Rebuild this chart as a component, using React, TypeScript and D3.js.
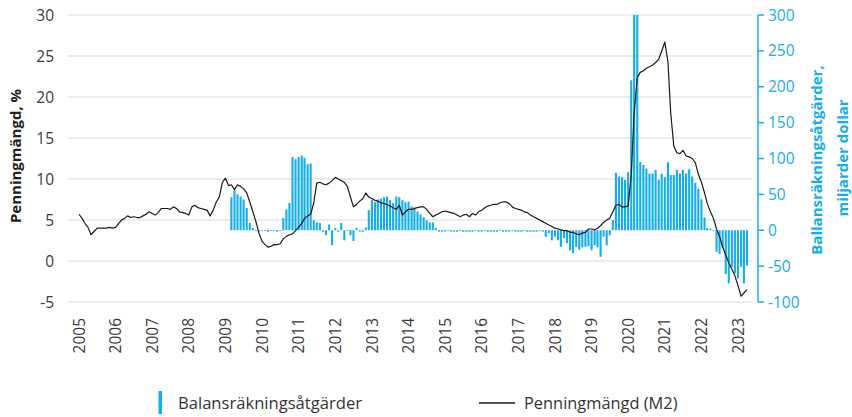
import React from "react";
import * as d3 from "d3";

const W = 852;
const H = 417;
const BLUE = "#14aee8";
const FONT = "'Open Sans', Lato, sans-serif";

const startYear = 2005;
const yearLabels = ["2005","2006","2007","2008","2009","2010","2011","2012","2013","2014","2015","2016","2017","2018","2019","2020","2021","2022","2023"];
const leftTicks = [-5, 0, 5, 10, 15, 20, 25, 30];
const rightTicks = [-100, -50, 0, 50, 100, 150, 200, 250, 300];

// Penningmängd (M2), % yoy — monthly from Jan 2005
const m2Growth = [
  5.7, 5.2, 4.6, 4.1, 3.2, 3.6, 4.0, 4.0, 4.0, 4.0,
  4.1, 4.0, 4.1, 4.6, 5.0, 5.2, 5.5, 5.3, 5.4, 5.3,
  5.3, 5.5, 5.7, 6.0, 5.8, 5.6, 5.9, 6.4, 6.4, 6.4,
  6.3, 6.6, 6.4, 6.0, 5.9, 5.8, 5.6, 6.6, 6.8, 6.5,
  6.4, 6.3, 6.2, 5.5, 6.2, 7.2, 7.8, 9.6, 10.1, 9.2,
  9.3, 8.7, 9.3, 9.1, 8.8, 8.3, 7.2, 6.0, 4.8, 3.4,
  2.4, 2.0, 1.7, 1.8, 2.0, 2.0, 2.1, 2.7, 3.0, 3.2,
  3.3, 3.7, 4.1, 4.6, 5.2, 5.5, 5.7, 7.1, 9.5, 9.6,
  9.4, 9.3, 9.5, 9.8, 10.2, 10.0, 9.8, 9.6, 9.1, 7.8,
  6.6, 6.9, 7.3, 7.6, 8.3, 7.8, 7.6, 7.4, 7.3, 7.1,
  7.0, 6.9, 6.7, 6.5, 6.3, 6.8, 5.6, 6.0, 6.3, 6.3,
  6.4, 6.5, 6.6, 6.6, 6.3, 5.8, 5.4, 5.6, 5.8, 6.0,
  6.1, 6.0, 5.9, 5.8, 5.6, 5.4, 5.6, 5.7, 5.4, 5.8,
  5.6, 6.0, 6.2, 6.5, 6.7, 6.8, 6.9, 6.9, 7.1, 7.2,
  7.2, 7.0, 6.6, 6.4, 6.3, 6.2, 6.0, 5.9, 5.6, 5.4,
  5.2, 5.0, 4.8, 4.6, 4.4, 4.2, 4.0, 3.9, 3.8, 3.7,
  3.7, 3.5, 3.5, 3.3, 3.2, 3.4, 3.5, 3.9, 3.9, 3.8,
  4.0, 4.3, 4.7, 5.0, 5.2, 6.0, 6.8, 6.9, 6.6, 6.6,
  6.7, 10.5, 18.0, 22.4, 23.0, 23.2, 23.5, 23.7, 23.9, 24.2,
  24.6, 25.6, 26.7, 24.3, 18.0, 14.0, 13.2, 13.1, 13.5, 12.8,
  12.7, 12.5, 12.0, 10.6, 9.6, 8.3, 7.0, 6.0, 5.2, 3.9,
  3.0, 1.7, 0.7, -0.2, -1.0, -1.8, -3.0, -4.3, -3.9, -3.5,
];

// Balansräkningsåtgärder, miljarder dollar — monthly from Jan 2005 (null = no bar)
const balanceSheet: (number | null)[] = [
  ...Array(50).fill(null),
  46, 56, 50, 47, 43, 31, 10, 3,
  -1, -2, -1, -1, -2, -1, -1, -2, -1,
  17, 29, 38, 102, 99, 102, 104, 101, 92, 93,
  14, 11, 10, -2, -7, 8, -21, 3, -2, 10, -14, 0, -7, -15, 3, -2, -2, 4,
  28, 42, 39, 43, 44, 46, 47, 42, 38, 47, 46, 42, 39, 40, 33, 32, 26, 22, 18, 14, 11, 11, 3,
  -2, -2, -2, -1, -2, -2, -2, 0, -2, -2, -2, -2, -1, -2, -2, 0, -2, -2, -2, -2, -1, -2, -2, -2, 0, -2, -2, -2, -1, -2, -2, -2, -2, -1, -2,
  -9, -4, -14, -9, -14, -23, -11, -18, -28, -32, -23, -27, -24, -23, -22, -28, -21, -24, -37, -9, -21, -7, 14,
  80, 75, 74, 70, 81, 209, 300, 300, 95, 91, 86, 79, 79, 84, 70, 79, 74, 95, 77, 77, 84, 79, 84, 79, 85, 75, 66, 58, 43, 18, 3, 2, -1,
  -30, -33, -24, -61, -74, -51, -60, -67, -51, -74, -49,
];

const legendItems = ["Balansräkningsåtgärder", "Penningmängd (M2)"];

export default function App() {
  const start = new Date(startYear, 0, 1);
  const dates = m2Growth.map((_, i) => d3.timeMonth.offset(start, i));

  const x = d3.scaleTime().domain([new Date(2005, 0, 1), new Date(2023, 0, 1)]).range([79, 738]);
  const yL = d3.scaleLinear().domain([-5, 30]).range([302, 15]);
  const yR = d3.scaleLinear().domain([-100, 300]).range([302, 15]);

  const lineGen = d3
    .line<number>()
    .x((_, i) => x(dates[i]))
    .y((d) => yL(d));

  const barW = 2.1;

  return (
    <svg width={W} height={H} style={{ position: "absolute", left: 0, top: 0, background: "#fff" }} fontFamily={FONT}>
      {/* grid */}
      {leftTicks.map((t) => (
        <line key={"g" + t} x1={68} x2={752} y1={yL(t)} y2={yL(t)} stroke="#e6e6e6" strokeWidth={1.5} />
      ))}
      {/* left tick labels */}
      {leftTicks.map((t) => (
        <text key={"l" + t} x={54} y={yL(t)} dy="0.36em" textAnchor="end" fontSize={15.5} fill="#3a3a3a">
          {t}
        </text>
      ))}
      {/* bars */}
      {balanceSheet.map((v, i) =>
        v === null ? null : (
          <rect
            key={"b" + i}
            x={x(dates[i]) - barW / 2}
            y={Math.min(yR(v), yR(0))}
            width={barW}
            height={Math.max(Math.abs(yR(v) - yR(0)), 0.8)}
            fill={BLUE}
          />
        )
      )}
      {/* line */}
      <path d={lineGen(m2Growth) || ""} fill="none" stroke="#1a1a1a" strokeWidth={1.2} strokeLinejoin="round" />
      {/* right axis */}
      <line x1={758} x2={758} y1={yR(-100)} y2={yR(300)} stroke={BLUE} strokeWidth={1.5} />
      {rightTicks.map((t) => (
        <g key={"r" + t}>
          <line x1={758} x2={764} y1={yR(t)} y2={yR(t)} stroke={BLUE} strokeWidth={1.5} />
          <text x={768} y={yR(t)} dy="0.36em" fontSize={15.5} fill={BLUE}>
            {t}
          </text>
        </g>
      ))}
      {/* x labels */}
      {yearLabels.map((yl) => (
        <text
          key={"x" + yl}
          transform={`translate(${x(new Date(+yl, 0, 1))},318) rotate(-90)`}
          dy="0.36em"
          textAnchor="end"
          fontSize={15.5}
          fill="#3a3a3a"
        >
          {yl}
        </text>
      ))}
      {/* left title */}
      <text transform="translate(21,156) rotate(-90)" textAnchor="middle" fontSize={15} fontWeight="bold" fill="#222">
        Penningmängd, %
      </text>
      {/* right title */}
      <text transform="translate(822,160) rotate(-90)" textAnchor="middle" fontSize={15} fontWeight="bold" fill={BLUE}>
        Ballansräkningsåtgärder,
      </text>
      <text transform="translate(848,158) rotate(-90)" textAnchor="middle" fontSize={15} fontWeight="bold" fill={BLUE}>
        miljarder dollar
      </text>
      {/* legend */}
      <rect x={158.5} y={391} width={3.5} height={23} fill={BLUE} />
      <text x={178} y={409} fontSize={16.6} fill="#333">
        {legendItems[0]}
      </text>
      <line x1={479} x2={515} y1={403} y2={403} stroke="#1a1a1a" strokeWidth={1.3} />
      <text x={524} y={409} fontSize={16.4} fill="#333">
        {legendItems[1]}
      </text>
    </svg>
  );
}
